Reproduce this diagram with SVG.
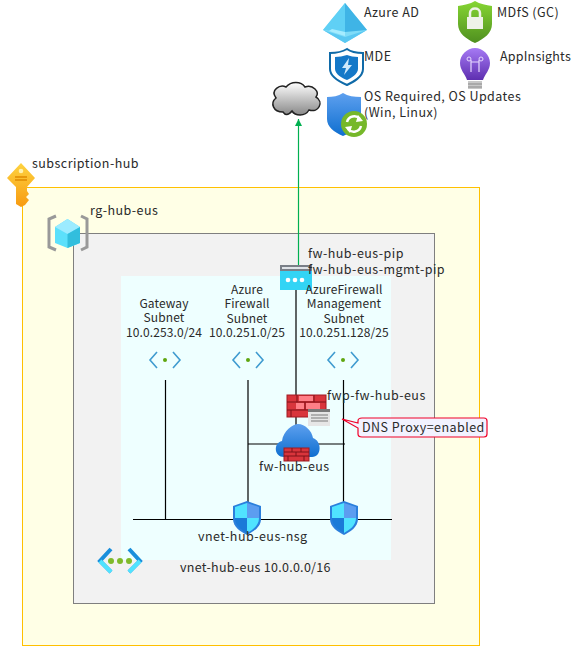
<svg xmlns="http://www.w3.org/2000/svg" width="580" height="646" viewBox="0 0 580 646">
<style>
text{font-family:"Noto Sans CJK JP","Liberation Sans",sans-serif;font-size:12.5px;letter-spacing:.45px;fill:#2a2a2a}
.m{text-anchor:middle;font-size:12px;letter-spacing:.1px}
.w{fill:none;stroke:#000;stroke-width:1.2}
.sub{fill:none;stroke:#3f9bd0;stroke-width:1.6}
</style>
<defs>
<linearGradient id="bl" x1="0" y1="0" x2="0" y2="1"><stop offset="0" stop-color="#5ea0ef"/><stop offset="1" stop-color="#0f6fd0"/></linearGradient>
<linearGradient id="gr" x1="0" y1="0" x2="0" y2="1"><stop offset="0" stop-color="#86d633"/><stop offset="1" stop-color="#4f8f1f"/></linearGradient>
<linearGradient id="pu" x1="0" y1="0" x2="0" y2="1"><stop offset="0" stop-color="#a67af4"/><stop offset="1" stop-color="#5e2fb0"/></linearGradient>
<linearGradient id="ye" x1="0" y1="0" x2="0" y2="1"><stop offset="0" stop-color="#fed340"/><stop offset="1" stop-color="#f79a10"/></linearGradient>
<linearGradient id="cl" x1="0" y1="0" x2="0" y2="1"><stop offset="0" stop-color="#fff"/><stop offset="1" stop-color="#888"/></linearGradient>
<marker id="ah" markerWidth="8" markerHeight="8" refX="7" refY="3.5" orient="auto" markerUnits="userSpaceOnUse"><path d="M0 0L7 3.5L0 7z" fill="#00b050"/></marker>
<g id="subnet"><path class="sub" d="M-8-8L-15 0L-8 8M8-8L15 0L8 8"/><circle r="2" fill="#5ea60f"/></g>
<g id="nsg"><path d="M0-17L14-12V1C14 9 6 14 0 17C-6 14-14 9-14 1V-12z" fill="#2b7fdc"/><path d="M0-15L12-11V0H0z" fill="#5c9df0"/><path d="M0-15V0H-12V-11z" fill="#50e3ff"/><path d="M0 0H12C12 8 5 12 0 15z" fill="#50e3ff"/><path d="M0 0V15C-5 12-12 8-12 0z" fill="#1a7ad8"/></g>
</defs>

<g id="subscription-hub">
<rect x="22.500" y="187.500" width="457" height="458" fill="#ffffe6" stroke="#ffc000"/>
<path d="M21 163L35 178L27 187V191L29 194L26 197L29 200L25 205L21 207L16 204V187L7 178z" fill="url(#ye)"/>
<path d="M15 177H27M15 180H27" stroke="#e08a00" stroke-width="1.300"/>
<circle cx="21" cy="171" r="2.300" fill="#fff2b0"/>
<text x="32" y="168">subscription-hub</text>
</g>
<g id="rg-hub-eus">
<rect x="73.500" y="233.500" width="361" height="370" fill="#f2f2f2" stroke="#7f7f7f"/>
<path d="M56 216L49 219V247L56 250M81 216L87 219V247L81 250" fill="none" stroke="#999" stroke-width="3"/>
<path d="M67.500 219L80 227V243L67.500 248L55 243V227z" fill="#5ce0fb"/>
<path d="M67.500 219L80 227L67.500 234L55 227z" fill="#9cebff"/>
<path d="M80 227V243L67.500 248V234z" fill="#32bedd"/>
<text x="90" y="215">rg-hub-eus</text>
</g>
<g id="vnet-hub-eus">
<rect x="121" y="276" width="270" height="284" fill="#eeffff"/>
<path d="M111 549L100 561L111 572M129 549L140 561L129 572" fill="none" stroke="#1a8fdc" stroke-width="4"/>
<path d="M100 561L111 572M140 561L129 572" fill="none" stroke="#50e3ff" stroke-width="4"/>
<circle cx="111" cy="561" r="3" fill="#7fba2a"/><circle cx="120" cy="561" r="3" fill="#7fba2a"/><circle cx="129" cy="561" r="3" fill="#7fba2a"/>
<text x="180" y="572" style="letter-spacing:.28px">vnet-hub-eus 10.0.0.0/16</text>
</g>

<g id="connectors">
<path class="w" d="M133 519.500H392M165.500 380V519.500M248 380V519.500M343.500 380V519.500M248 444H345M296 290V440"/>
<path d="M298.500 265V119" stroke="#00b050" stroke-width="1.200" fill="none" marker-end="url(#ah)"/>
</g>

<g id="cloud"><path d="M283 112C273 112 270 103 276 98C270 90 280 84 286 87C291 81 301 81 305 87C313 84 320 92 316 97C324 102 319 113 309 110C305 117 295 116 292 111C288 116 285 115 283 112z" fill="url(#cl)" stroke="#222" stroke-width="1.500"/></g>

<g id="azure-ad"><path d="M345 3L323 30L345 43L367 30z" fill="#7fdcf8"/><path d="M345 3V32L323 30z" fill="#5fd0f5"/><path d="M345 3L367 30L345 32z" fill="#3fb4e6"/><path d="M323 30L345 37L367 30L345 43z" fill="#5ac8f2"/><path d="M332 29L345 32V36L329 31z" fill="#a5ecff"/><text x="364" y="17">Azure AD</text></g>
<g id="mdfs"><path d="M475 1C480 4 486 5 492 6V24C492 33 484 39 475 43C466 39 458 33 458 24V6C464 5 470 4 475 1z" fill="url(#gr)"/><rect x="467" y="17" width="16" height="12" fill="#eef2e8"/><path d="M470 17V13C470 7 480 7 480 13V17" fill="none" stroke="#eef2e8" stroke-width="2.500"/><text x="497" y="17">MDfS (GC)</text></g>
<g id="mde"><path d="M347 49C351 52 356 53 363 53V69C363 77 353 82 347 85C340 82 330 77 330 69V53C336 53 342 52 347 49z" fill="#fff" stroke="#0f6aa8" stroke-width="2"/><path d="M347 55C350 56 354 57 358 57V69C358 74 351 78 347 80C342 78 335 74 335 69V57C339 57 343 56 347 55z" fill="#1478c8"/><path d="M349 58L342 68H346L344 75L352 65H348z" fill="#cfe9fb"/><text x="364" y="61">MDE</text></g>
<g id="appinsights"><path d="M475 48C483 48 490 55 490 63C490 70 485 74 483 80H467C465 74 460 70 460 63C460 55 467 48 475 48z" fill="url(#pu)"/><rect x="468" y="81" width="14" height="8" fill="#c8c8c8"/><path d="M468 84H482M468 87H482" stroke="#8a8a8a"/><path d="M471 72V60M479 72V60M471 62H479" stroke="#e6d8ff" stroke-width="1.200" fill="none"/><circle cx="469" cy="59" r="2" fill="none" stroke="#e6d8ff"/><circle cx="481" cy="59" r="2" fill="none" stroke="#e6d8ff"/><text x="500" y="61" style="letter-spacing:.2px">AppInsights</text></g>
<g id="os-updates"><path d="M343 93C348 96 354 97 361 97V119C361 127 352 132 343 136C334 132 327 127 327 119V97C333 97 338 96 343 93z" fill="url(#bl)"/><circle cx="354" cy="124" r="13" fill="#76b82a"/><path d="M347 122A7.500 7.500 0 0 1 360 119M361 126A7.500 7.500 0 0 1 348 129" fill="none" stroke="#fff" stroke-width="2.500"/><path d="M358 115L363 121L356 122zM350 133L345 127L352 126z" fill="#fff"/><text x="364" y="101">OS Required, OS Updates</text><text x="364" y="117">(Win, Linux)</text></g>

<g id="pip"><rect x="280" y="265" width="32" height="25" fill="#32d4f5"/><rect x="280" y="265" width="32" height="6" fill="#7a7f87"/><rect x="282" y="267" width="28" height="2" fill="#dfe3e8"/><circle cx="288" cy="280" r="2.300" fill="#fff"/><circle cx="295" cy="280" r="2.300" fill="#fff"/><circle cx="302" cy="280" r="2.300" fill="#fff"/><text x="308" y="258">fw-hub-eus-pip</text><text x="308" y="274">fw-hub-eus-mgmt-pip</text></g>

<g id="gateway-subnet"><text class="m" x="164" y="308">Gateway</text><text class="m" x="164" y="322">Subnet</text><text class="m" x="164" y="337">10.0.253.0/24</text><use href="#subnet" x="165" y="360"/></g>
<g id="firewall-subnet"><text class="m" x="247" y="294">Azure</text><text class="m" x="247" y="308">Firewall</text><text class="m" x="247" y="323">Subnet</text><text class="m" x="247" y="337">10.0.251.0/25</text><use href="#subnet" x="248" y="360"/></g>
<g id="mgmt-subnet"><text class="m" x="344" y="294">AzureFirewall</text><text class="m" x="344" y="308">Management</text><text class="m" x="344" y="323">Subnet</text><text class="m" x="344" y="337">10.0.251.128/25</text><use href="#subnet" x="343" y="360"/></g>

<g id="fwp-fw-hub-eus"><rect x="287" y="395" width="39" height="22" fill="#d9353c" stroke="#a01b22"/><path d="M287 402H326M287 410H326M297 395V402M314 395V402M305 402V410M291 410V417M318 410V417" stroke="#7f1218" fill="none"/><path d="M299 396H313V401H299zM296 403H304V409H296zM306 403H320V409H306z" fill="#ff7f87"/><rect x="308" y="409" width="22" height="17" fill="#e6e6e6"/><rect x="308" y="409" width="22" height="3" fill="#7a7a7a"/><path d="M311 415H328M311 418H328M311 421H328" stroke="#7a7a7a"/><text x="327" y="400">fwp-fw-hub-eus</text></g>
<g id="fw-hub-eus"><path d="M284 457C274 457 273 443 282 441C283 431 293 424 298 424C305 424 312 431 313 438C322 441 322 457 312 457z" fill="url(#bl)"/><rect x="284" y="448" width="25" height="13" fill="#d9353c" stroke="#a01b22"/><path d="M284 452H309M284 456H309M292 448V452M301 448V452M296 452V456M288 456V461M304 456V461" stroke="#7f1218" fill="none"/><text x="259" y="471">fw-hub-eus</text></g>
<g id="dns-proxy"><path d="M342 419L358 423V421C358 419 360 418 362 418H484C486 418 487 419 487 421V434C487 436 486 437 484 437H362C360 437 358 436 358 434V428z" fill="#f2f2ff" stroke="#f00028" stroke-width="1.200"/><text x="362" y="432">DNS Proxy=enabled</text></g>

<g id="nsg-1"><use href="#nsg" x="247" y="518"/></g>
<g id="nsg-2"><use href="#nsg" x="344" y="518"/></g>
<text x="198" y="541">vnet-hub-eus-nsg</text>
</svg>
